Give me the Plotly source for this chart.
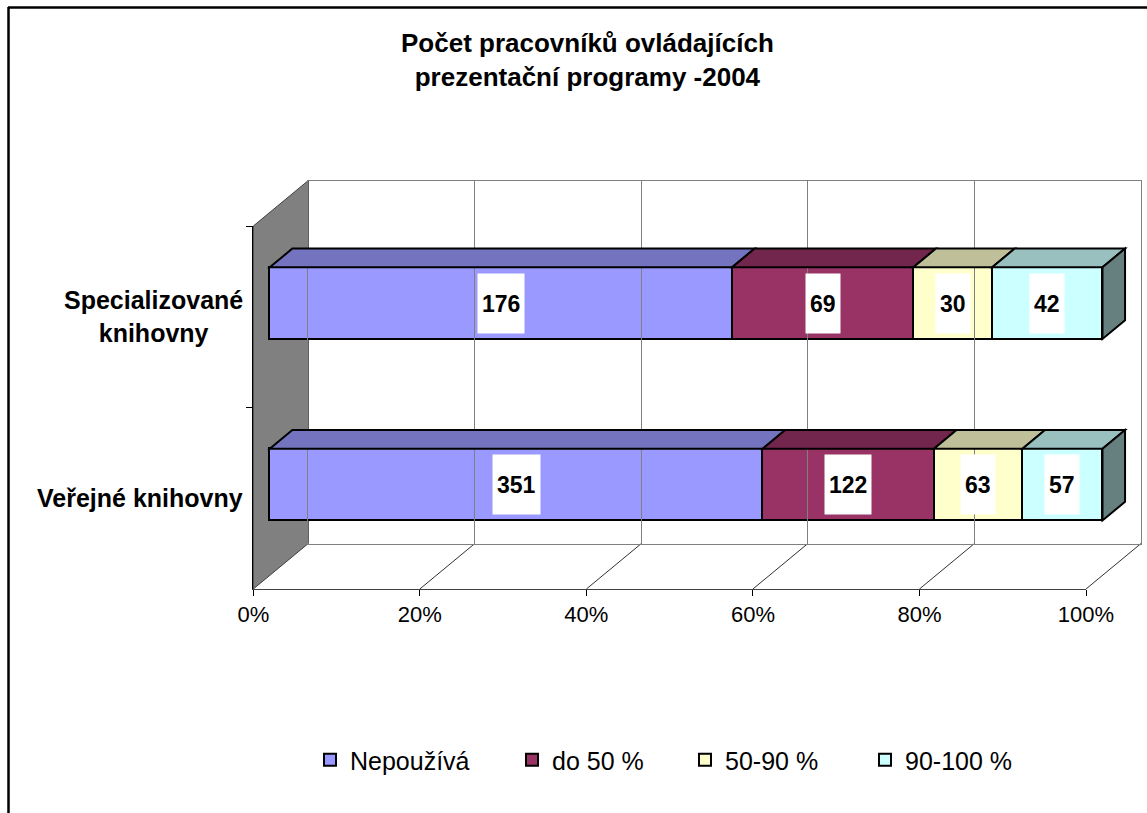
import plotly.graph_objects as go

# ---------------- data ----------------
categories = ["Veřejné knihovny", "Specializované knihovny"]
category_labels = ["Veřejné knihovny", "Specializované<br>knihovny"]
series_names = ["Nepoužívá", "do 50 %", "50-90 %", "90-100 %"]
nepouziva = [351, 176]
do_50 = [122, 69]
p50_90 = [63, 30]
p90_100 = [57, 42]
x_ticks = [0, 20, 40, 60, 80, 100]
title_text = "Počet pracovníků ovládajících<br>prezentační programy -2004"

series_values = [nepouziva, do_50, p50_90, p90_100]
front_colors = ["#9999FF", "#993366", "#FFFFCC", "#CCFFFF"]
top_colors = ["#7373BF", "#73264D", "#BFBF99", "#99BFBF"]
side_color = "#668080"

# ---------------- geometry (pixels) ----------------
W, H = 1147, 813
FONT = "Liberation Sans, Arial, sans-serif"


def px(x):
    return x / W


def py(y):
    return 1 - y / H


FX0, FX1 = 253.3, 1086.0        # front plane 0% .. 100%
FY0, FY1 = 226.0, 589.0         # front plane top .. bottom
DDX, DDY = 55.0, -45.5          # full depth offset
BD0, BD1 = 0.30, 0.71           # bar depth (fraction of full depth)
PPP = (FX1 - FX0) / 100.0       # pixels per percent
PPC = (FY1 - FY0) / 2.0         # pixels per category
BAR_W = 0.395

# bar (front face) axis placement
bx0 = FX0 + BD0 * DDX
by_off = BD0 * DDY
XR = [-1.0, 104.0]
YR = [-0.5, 1.5]
bar_xdom = [px(bx0 + XR[0] * PPP), px(bx0 + XR[1] * PPP)]
bar_ydom = [py(FY1 + by_off), py(FY0 + by_off)]

DX_PCT = (BD1 - BD0) * DDX / PPP
DY_CAT = -(BD1 - BD0) * DDY / PPC

fig = go.Figure()

legend_keys = ["legend", "legend2", "legend3", "legend4"]
for i, (name, vals) in enumerate(zip(series_names, series_values)):
    fig.add_trace(go.Bar(
        name=name, y=list(range(len(categories))), x=vals, orientation="h",
        width=BAR_W, marker=dict(color=front_colors[i], line=dict(color="black", width=2)),
        xaxis="x", yaxis="y", legend=legend_keys[i], hoverinfo="skip",
    ))

shapes = []
annotations = []

# 3D top faces, side face and value labels
for j, cat in enumerate(categories):
    total = sum(s[j] for s in series_values)
    cum = 0.0
    y_top = j + BAR_W / 2
    y_bot = j - BAR_W / 2
    for i, vals in enumerate(series_values):
        a = cum / total * 100
        cum += vals[j]
        b = cum / total * 100
        path = (f"M {a},{y_top} L {b},{y_top} L {b + DX_PCT},{y_top + DY_CAT} "
                f"L {a + DX_PCT},{y_top + DY_CAT} Z")
        shapes.append(dict(type="path", path=path, xref="x", yref="y",
                           fillcolor=top_colors[i], line=dict(color="black", width=2),
                           layer="above"))
        annotations.append(dict(
            x=(a + b) / 2, y=j, xref="x", yref="y", text=f"<b>{vals[j]}</b>",
            showarrow=False, bgcolor="white", borderpad=4, height=51,
            font=dict(family=FONT, size=23, color="black")))
    path = (f"M 100,{y_bot} L 100,{y_top} L {100 + DX_PCT},{y_top + DY_CAT} "
            f"L {100 + DX_PCT},{y_bot + DY_CAT} Z")
    shapes.append(dict(type="path", path=path, xref="x", yref="y",
                       fillcolor=side_color, line=dict(color="black", width=2),
                       layer="above"))

# left (gray) wall
wall = (f"M {px(FX0)},{py(FY1)} L {px(FX0 + DDX)},{py(FY1 + DDY)} "
        f"L {px(FX0 + DDX)},{py(FY0 + DDY)} L {px(FX0)},{py(FY0)} Z")
shapes.append(dict(type="path", path=wall, xref="paper", yref="paper",
                   fillcolor="#808080", line=dict(color="#404040", width=1), layer="below"))

# floor lines
for v in x_ticks[1:]:
    shapes.append(dict(type="line", xref="paper", yref="paper",
                       x0=px(FX0 + v * PPP), y0=py(FY1),
                       x1=px(FX0 + v * PPP + DDX), y1=py(FY1 + DDY),
                       line=dict(color="#303030", width=1), layer="below"))

# outer chart border (top and left edges visible)
shapes.append(dict(type="line", xref="paper", yref="paper",
                   x0=px(8), y0=py(7.5), x1=px(W + 10), y1=py(7.5),
                   line=dict(color="black", width=2.5)))
shapes.append(dict(type="line", xref="paper", yref="paper",
                   x0=px(8.5), y0=py(7), x1=px(8.5), y1=py(H + 10),
                   line=dict(color="black", width=2.5)))

# category labels
for cat, lab in zip(categories, category_labels):
    annotations.append(dict(
        x=px(245), y=cat, xref="paper", yref="y2", text=f"<b>{lab}</b>",
        xanchor="right", yanchor="middle", align="center", showarrow=False,
        font=dict(family=FONT, size=25, color="black")))

# title
annotations.append(dict(
    x=px(587), y=py(60), xref="paper", yref="paper", text=f"<b>{title_text}</b>",
    xanchor="center", yanchor="middle", align="center", showarrow=False,
    font=dict(family=FONT, size=26, color="black")))

legend_x = [310, 512, 685, 865]
legend_cfg = {}
for k, lx in zip(legend_keys, legend_x):
    legend_cfg[k] = dict(x=px(lx), y=py(760), xanchor="left", yanchor="middle",
                         orientation="h", bgcolor="rgba(0,0,0,0)",
                         font=dict(family=FONT, size=25, color="black"))

fig.update_layout(
    width=W, height=H, autosize=False,
    margin=dict(l=0, r=0, t=0, b=0, pad=0, autoexpand=False),
    paper_bgcolor="white", plot_bgcolor="rgba(0,0,0,0)",
    barmode="stack", barnorm="percent", bargap=0,
    showlegend=True,
    font=dict(family=FONT, color="black"),
    # bar front-face axes
    xaxis=dict(domain=bar_xdom, range=XR, visible=False, fixedrange=True, automargin=False),
    yaxis=dict(domain=bar_ydom, range=YR, visible=False, fixedrange=True, automargin=False),
    # front plane axes (ticks, labels)
    xaxis2=dict(domain=[px(FX0), px(FX1)], range=[0, 100], anchor="y2", automargin=False,
                tickvals=x_ticks, ticktext=[f"{v}%" for v in x_ticks],
                ticks="outside", ticklen=6, tickcolor="black", tickwidth=1,
                showline=True, linecolor="#404040", linewidth=1, showgrid=False,
                zeroline=False, tickfont=dict(family=FONT, size=22, color="black")),
    yaxis2=dict(domain=[py(FY1), py(FY0)], anchor="x2", type="category", automargin=False,
                categoryorder="array", categoryarray=categories, range=[-0.5, 1.5],
                tickson="boundaries", ticks="outside", ticklen=6, tickcolor="black",
                showticklabels=False, showline=True, linecolor="black", linewidth=1,
                showgrid=False, zeroline=False),
    # back wall
    xaxis3=dict(domain=[px(FX0 + DDX), px(FX1 + DDX)], range=[0, 100], anchor="y3",
                dtick=20, showgrid=True, gridcolor="#808080", gridwidth=1, automargin=False,
                showline=True, mirror=True, linecolor="#808080", linewidth=1,
                showticklabels=False, ticks="", zeroline=False),
    yaxis3=dict(domain=[py(FY1 + DDY), py(FY0 + DDY)], range=[0, 1], anchor="x3",
                showgrid=False, showline=True, mirror=True, linecolor="#808080",
                linewidth=1, showticklabels=False, ticks="", zeroline=False, automargin=False),
    shapes=shapes,
    annotations=annotations,
    **legend_cfg,
)

# invisible anchors so the front and back axes render
fig.add_trace(go.Scatter(x=[], y=[], xaxis="x2", yaxis="y2", showlegend=False))
fig.add_trace(go.Scatter(x=[], y=[], xaxis="x3", yaxis="y3", showlegend=False))

fig.write_html("out.html", config={"displayModeBar": False},
               post_script="document.body.style.margin='0';document.body.style.overflow='hidden';")
